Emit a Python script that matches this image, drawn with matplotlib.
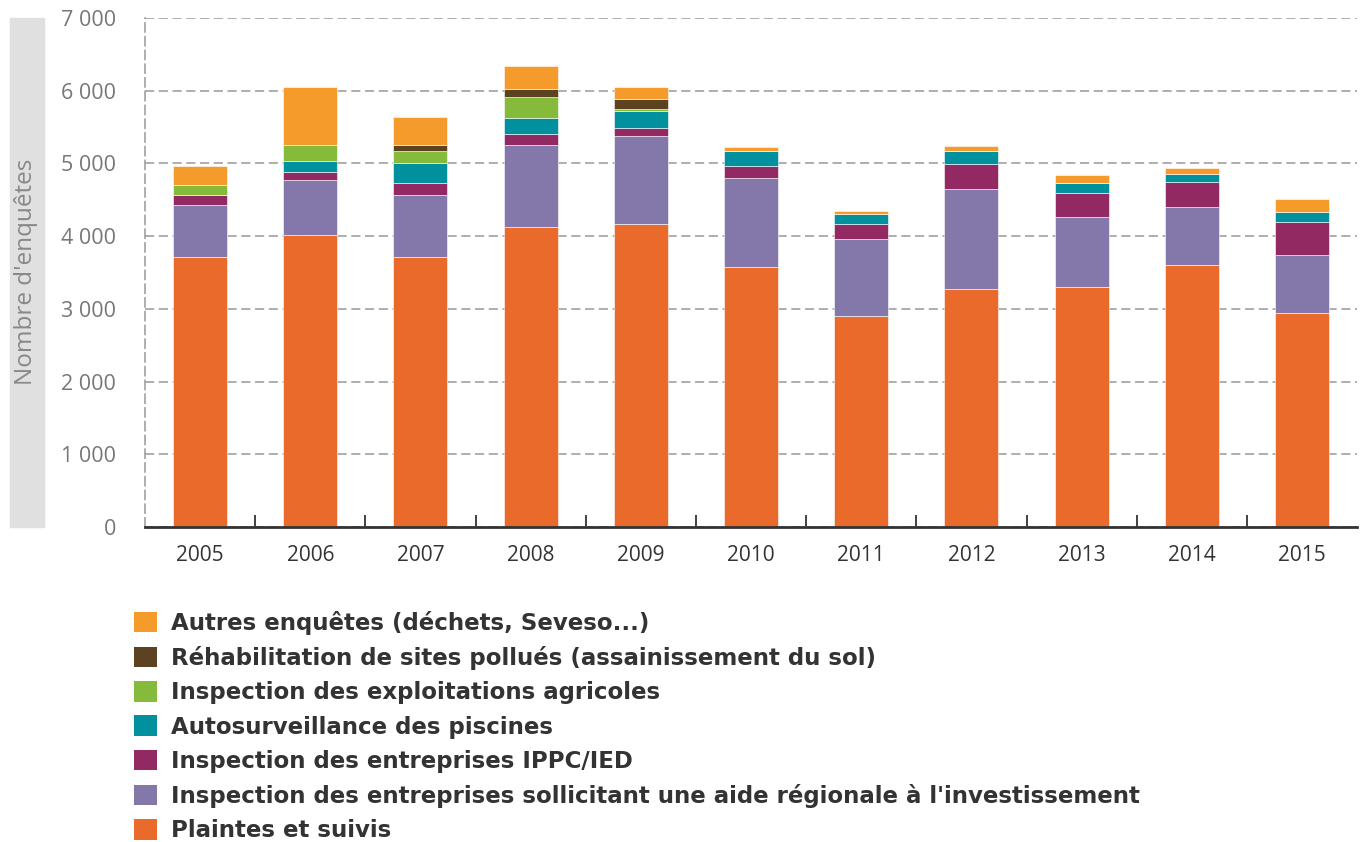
import numpy as np
import matplotlib.pyplot as plt
from matplotlib.patches import Patch, Rectangle

plt.rcParams['font.family'] = ['Open Sans', 'DejaVu Sans']

# données (nombre d'enquêtes par an)
years = ['2005', '2006', '2007', '2008', '2009', '2010', '2011', '2012', '2013', '2014', '2015']
plaintes = [3720, 4010, 3720, 4120, 4170, 3570, 2900, 3270, 3300, 3610, 2950]
aide_regionale = [710, 760, 840, 1130, 1210, 1230, 1055, 1375, 970, 795, 790]
ippc = [140, 110, 165, 160, 110, 160, 210, 345, 320, 345, 455]
piscines = [0, 155, 285, 210, 235, 210, 140, 185, 140, 110, 135]
agricoles = [130, 215, 160, 290, 25, 0, 0, 0, 0, 0, 0]
rehabilitation = [0, 0, 85, 110, 135, 0, 0, 0, 0, 0, 0]
autres = [265, 795, 390, 315, 160, 60, 45, 60, 105, 75, 185]

series = [
    ("Plaintes et suivis", plaintes, '#EA6A2C'),
    ("Inspection des entreprises sollicitant une aide régionale à l'investissement", aide_regionale, '#8478AB'),
    ("Inspection des entreprises IPPC/IED", ippc, '#932962'),
    ("Autosurveillance des piscines", piscines, '#00909E'),
    ("Inspection des exploitations agricoles", agricoles, '#86BA3A'),
    ("Réhabilitation de sites pollués (assainissement du sol)", rehabilitation, '#5C4220'),
    ("Autres enquêtes (déchets, Seveso...)", autres, '#F49B2C'),
]

fig = plt.figure(figsize=(13.65, 8.42), dpi=100)
ax = fig.add_axes([0.1062, 0.3741, 0.888, 0.6045])

x = np.arange(len(years))
bottom = np.zeros(len(years))
for name, vals, col in series:
    ax.bar(x, vals, width=0.49, bottom=bottom, color=col, edgecolor='white', linewidth=0.4)
    bottom += np.array(vals)

ax.set_xlim(-0.5, 10.5)
ax.set_ylim(0, 7000)
ax.set_yticks(range(0, 7001, 1000))
ax.set_yticklabels(['0' if v == 0 else f"{v // 1000} {v % 1000:03d}" for v in range(0, 7001, 1000)],
                   color='#777777', fontsize=15.5)
ax.yaxis.grid(True, linestyle=(0, (6, 3)), color='#999999', linewidth=1.1)
ax.set_axisbelow(True)
ax.tick_params(axis='y', length=0, pad=21)

ax.set_xticks(x)
ax.set_xticklabels(years, fontsize=15, color='#333333')
ax.tick_params(axis='x', which='major', length=0, pad=13)
ax.set_xticks(np.arange(0.5, 10, 1), minor=True)
ax.tick_params(axis='x', which='minor', direction='in', length=9, width=1.3, color='#333333')

for s in ['top', 'right']:
    ax.spines[s].set_visible(False)
ax.spines['left'].set_linestyle((0, (6, 3)))
ax.spines['left'].set_color('#999999')
ax.spines['left'].set_linewidth(1.1)
ax.spines['bottom'].set_color('#333333')
ax.spines['bottom'].set_linewidth(2)

# bandeau gris du titre de l'axe Y
fig.patches.append(Rectangle((10 / 1365, 1 - 527 / 842), 34 / 1365, 509 / 842,
                             transform=fig.transFigure, color='#E0E0E0', zorder=0))
fig.text(26 / 1365, 1 - 272 / 842, "Nombre d'enquêtes", rotation=90, ha='center', va='center',
         color='#888888', fontsize=17.5)

handles = [Patch(facecolor=col, edgecolor='none', label=name) for name, vals, col in series[::-1]]
leg = fig.legend(handles=handles, loc='upper left', bbox_to_anchor=(113 / 1365, 1 - 590 / 842),
                 frameon=False, prop={'family': 'DejaVu Sans', 'size': 16.5, 'weight': 'bold'},
                 labelcolor='#333333', handlelength=1.0, handleheight=1.0, handletextpad=0.65,
                 labelspacing=0.49)

fig.savefig('out.png', dpi=100)
